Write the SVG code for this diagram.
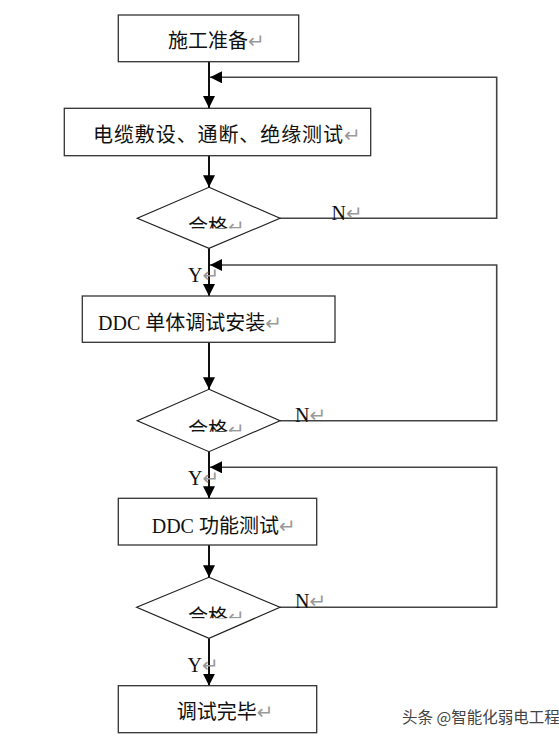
<svg xmlns="http://www.w3.org/2000/svg" width="559" height="738" viewBox="0 0 559 738">
<style>
.box{fill:#fff;stroke:#333;stroke-width:1.3}
.dia{fill:#fff;stroke:#222;stroke-width:1.2}
.t{font-family:"Liberation Serif","Noto Sans CJK SC",serif;font-size:20px;fill:#111}
.lbl{font-family:"Liberation Serif","Noto Sans CJK SC",serif;font-size:20px;fill:#111}
.rm{font-family:"DejaVu Sans",sans-serif;font-size:20px;fill:#999}
.main{fill:none;stroke:#111;stroke-width:2}
.fb{fill:none;stroke:#444;stroke-width:1.6}
.wm{font-family:"Noto Sans CJK SC",sans-serif;font-size:15.5px;fill:#444}
</style>
<defs>
<marker id="ah" markerUnits="userSpaceOnUse" markerWidth="12" markerHeight="12" refX="12" refY="6" orient="auto">
<path d="M0,0 L12,6 L0,12 Z" fill="#000"/>
</marker>
<clipPath id="c1"><rect x="130" y="180" width="160" height="48.5"/></clipPath>
<clipPath id="c2"><rect x="130" y="385" width="160" height="46.7"/></clipPath>
<clipPath id="c3"><rect x="130" y="575" width="160" height="43.3"/></clipPath>
</defs>
<rect width="559" height="738" fill="#fff"/>
<g id="connectors">
<line class="main" x1="209" y1="62" x2="209" y2="108" marker-end="url(#ah)"/>
<polyline class="fb" points="280,218.3 496.7,218.3 496.7,77.3 210,77.3" marker-end="url(#ah)"/>
<line class="main" x1="209" y1="156" x2="209" y2="187.3" marker-end="url(#ah)"/>
<line class="main" x1="209" y1="248.3" x2="209" y2="296" marker-end="url(#ah)"/>
<polyline class="fb" points="280,420.7 496.7,420.7 496.7,265 210,265" marker-end="url(#ah)"/>
<line class="main" x1="209" y1="342.3" x2="209" y2="389.3" marker-end="url(#ah)"/>
<line class="main" x1="209" y1="451.7" x2="209" y2="498.3" marker-end="url(#ah)"/>
<polyline class="fb" points="280,607.3 496.7,607.3 496.7,467.3 210,467.3" marker-end="url(#ah)"/>
<line class="main" x1="209" y1="545" x2="209" y2="577.3" marker-end="url(#ah)"/>
<line class="main" x1="209" y1="638.3" x2="209" y2="685.7" marker-end="url(#ah)"/>
<text class="lbl" x="331.5" y="219.5">N<tspan class="rm">↵</tspan></text>
<text class="lbl" x="188" y="282">Y<tspan class="rm">↵</tspan></text>
<text class="lbl" x="295" y="421.7">N<tspan class="rm">↵</tspan></text>
<text class="lbl" x="188" y="485">Y<tspan class="rm">↵</tspan></text>
<text class="lbl" x="295" y="608">N<tspan class="rm">↵</tspan></text>
<text class="lbl" x="187.5" y="672">Y<tspan class="rm">↵</tspan></text>
</g>
<g id="n1">
<rect class="box" x="118.3" y="15" width="180.4" height="46.7"/>
<text class="t" x="168" y="48">施工准备<tspan class="rm">↵</tspan></text>
</g>
<g id="n2">
<rect class="box" x="64.3" y="108.3" width="306.4" height="47.4"/>
<text class="t" x="93" y="142" textLength="250">电缆敷设、通断、绝缘测试</text>
<text class="rm" x="344" y="142">↵</text>
</g>
<g id="d1">
<polygon class="dia" points="209,187.3 280,218.3 209,248.3 137.3,218.3"/>
<text class="t" x="188" y="234" clip-path="url(#c1)">合格<tspan class="rm">↵</tspan></text>
</g>
<g id="n3">
<rect class="box" x="82.3" y="296" width="252.7" height="46.3"/>
<text class="t" x="98" y="330">DDC 单体调试安装<tspan class="rm">↵</tspan></text>
</g>
<g id="d2">
<polygon class="dia" points="209,389.3 280,420.7 209,451.7 137.3,420.7"/>
<text class="t" x="188" y="437" clip-path="url(#c2)">合格<tspan class="rm">↵</tspan></text>
</g>
<g id="n4">
<rect class="box" x="118.3" y="498.3" width="198.4" height="46.7"/>
<text class="t" x="151.7" y="533">DDC 功能测试<tspan class="rm">↵</tspan></text>
</g>
<g id="d3">
<polygon class="dia" points="209,577.3 280,607.3 209,638.3 136.7,607.3"/>
<text class="t" x="188" y="624" clip-path="url(#c3)">合格<tspan class="rm">↵</tspan></text>
</g>
<g id="n5">
<rect class="box" x="118.3" y="685.7" width="198.4" height="47"/>
<text class="t" x="176.7" y="719">调试完毕<tspan class="rm">↵</tspan></text>
</g>
<text class="wm" x="402" y="723">头条 @智能化弱电工程</text>
</svg>
